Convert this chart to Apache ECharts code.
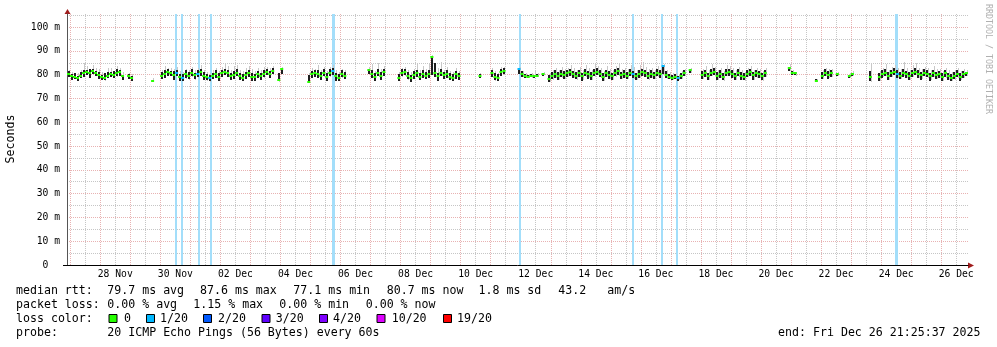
<!DOCTYPE html>
<html><head><meta charset="utf-8">
<script src="https://cdn.jsdelivr.net/npm/echarts@6/dist/echarts.min.js"></script>
<style>html,body{margin:0;padding:0;background:#fff}#c{width:997px;height:347px}</style>
</head><body><div id="c"></div>
<script>
const _ = null;
// time: hours after 2025-11-26 00:00; graph end Fri Dec 26 21:25:37 2025, 30 days
const START_H = 21 + 25/60 + 37/3600;
const RANGE_H = 720;
const STEP_H = 2.4;               // one sample every 2.4 h (300 samples)
const xLabels = ['28 Nov','30 Nov','02 Dec','04 Dec','06 Dec','08 Dec','10 Dec','12 Dec','14 Dec','16 Dec','18 Dec','20 Dec','22 Dec','24 Dec','26 Dec'];
const yLabels = [0,10,20,30,40,50,60,70,80,90,100];
const yGrid = [0,5,10,15,20,25,30,35,40,45,50,55,60,65,70,75,80,85,90,95,100,105];
const Y_MAX = 105.5;

// median rtt (ms)
const med = [
80.2,79.6,79.0,78.6,79.4,80.8,81.2,80.6,81.4,80.9,
79.8,79.2,78.8,79.6,80.4,79.9,80.7,81.0,79.3,_,
79.4,78.8,_,_,_,_,_,_,77.2,_,
_,79.6,80.4,81.2,80.6,79.8,80.9,79.2,78.6,80.1,
79.4,80.8,79.7,80.3,81.1,79.5,79.0,78.4,79.6,80.2,
79.1,80.6,81.3,80.7,79.4,80.0,80.9,79.3,78.7,79.8,
80.5,79.2,78.9,80.1,79.6,80.4,81.0,80.2,81.5,_,
77.8,82.3,_,_,_,_,_,_,_,_,
77.1,80.3,80.8,80.2,79.4,80.6,79.1,80.9,81.4,79.3,
78.6,80.2,79.5,_,_,_,_,_,_,_,
81.8,80.4,79.2,80.9,79.6,81.1,_,_,_,_,
78.6,80.7,81.3,79.5,78.4,79.9,80.5,79.1,80.2,79.6,
80.4,87.6,80.6,79.3,80.8,79.7,80.2,79.0,78.7,80.1,
79.4,_,_,_,_,_,_,79.3,_,_,
_,80.6,79.2,78.8,81.0,81.7,_,_,_,_,
82.4,80.1,79.4,79.2,79.6,79.3,79.5,_,80.2,_,
78.2,79.4,80.3,79.6,80.4,79.8,80.6,81.0,80.2,79.5,
80.7,79.3,80.9,80.1,79.6,80.8,81.2,80.3,79.1,80.5,
80.0,79.4,80.7,81.4,79.7,80.2,79.6,80.9,80.1,79.3,
80.4,81.1,80.6,79.5,80.2,79.8,80.7,80.3,83.6,79.9,
79.2,78.8,79.0,78.6,79.4,80.9,_,82.0,_,_,
_,79.8,80.6,79.4,80.9,81.2,79.6,80.3,79.1,80.7,
81.3,80.2,79.4,80.8,79.6,78.9,80.4,81.0,79.7,80.5,
80.1,79.3,80.6,_,_,_,_,_,_,_,
82.6,80.9,80.5,_,_,_,_,_,_,77.4,
_,79.6,80.8,79.9,80.6,_,80.3,_,_,_,
79.4,80.1,_,_,_,_,_,79.0,_,_,
79.2,80.4,80.9,79.6,80.7,81.2,80.3,79.5,80.8,80.1,
79.4,80.6,81.3,80.2,79.7,80.9,80.4,79.3,80.6,79.8,
80.2,79.1,80.5,79.4,78.8,79.6,80.3,79.2,80.1,80.7
];
// dark smoke top (ms)
const smokeHi = [
81.6,80.3,80.9,79.5,81.2,82.1,81.9,82.4,82.3,81.6,
81.2,80.0,80.6,81.0,81.2,81.4,82.2,81.8,80.0,_,
80.4,79.6,_,_,_,_,_,_,77.6,_,
_,81.2,82.0,82.3,81.5,81.7,82.0,80.4,80.3,81.8,
81.0,82.2,80.6,81.9,82.4,81.3,80.2,79.9,80.7,81.9,
80.8,81.9,82.5,82.1,80.8,81.6,82.3,80.9,80.2,81.3,
81.8,80.9,80.3,81.6,80.8,82.0,82.2,81.6,82.6,_,
80.5,82.7,_,_,_,_,_,_,_,_,
79.8,81.7,82.0,81.8,81.0,82.2,80.9,82.3,82.6,80.9,
80.2,81.8,81.0,_,_,_,_,_,_,_,
82.5,82.1,80.8,82.3,81.3,82.5,_,_,_,_,
80.1,82.2,82.4,81.0,80.0,81.6,82.0,80.7,81.9,81.1,
82.0,88.0,85.0,80.9,82.3,81.2,81.8,80.6,80.1,81.7,
80.9,_,_,_,_,_,_,80.2,_,_,
_,82.1,80.7,80.4,82.4,82.6,_,_,_,_,
82.8,81.4,80.2,79.9,80.3,80.0,80.2,_,80.7,_,
79.8,81.0,81.9,81.2,81.8,81.5,82.0,82.5,81.7,81.0,
82.1,80.9,82.4,81.7,81.2,82.3,82.6,81.8,80.7,82.0,
81.6,80.9,82.2,82.7,81.2,81.9,81.1,82.4,81.6,80.8,
82.0,82.5,82.1,81.0,81.8,81.3,82.2,81.9,84.0,81.4,
80.3,79.9,80.1,79.6,80.6,81.9,_,82.5,_,_,
_,81.4,82.1,80.9,82.3,82.6,81.2,81.9,80.6,82.2,
82.5,81.8,80.9,82.3,81.2,80.5,81.9,82.5,81.3,82.0,
81.6,80.8,82.0,_,_,_,_,_,_,_,
83.0,81.6,81.2,_,_,_,_,_,_,78.0,
_,81.1,82.3,81.5,82.0,_,80.8,_,_,_,
80.0,80.7,_,_,_,_,_,81.4,_,_,
80.8,82.0,82.4,81.2,82.1,82.7,81.9,81.0,82.4,81.6,
81.0,82.1,82.6,81.8,81.3,82.4,81.9,80.9,82.1,81.3,
81.7,80.7,82.0,80.9,80.4,81.1,81.8,80.8,81.6,81.2
];
// dark smoke bottom (ms)
const smokeLo = [
78.9,77.8,78.2,77.4,78.8,79.2,79.9,78.7,80.1,79.4,
78.3,77.9,77.6,78.5,79.0,78.6,79.2,79.4,77.8,_,
78.2,77.7,_,_,_,_,_,_,76.8,_,
_,78.3,78.8,79.4,79.2,78.0,79.3,77.6,77.4,78.4,
77.9,79.2,78.1,78.8,79.6,77.8,77.5,77.2,78.2,78.7,
77.6,79.0,79.8,79.3,77.7,78.4,79.5,77.8,77.3,78.3,
79.0,77.6,77.5,78.7,78.0,78.9,79.6,78.8,79.9,_,
77.0,80.2,_,_,_,_,_,_,_,_,
76.8,78.9,79.2,78.6,77.8,79.1,77.6,79.4,79.8,77.7,
77.3,78.7,78.0,_,_,_,_,_,_,_,
80.2,78.8,77.6,79.2,78.1,79.4,_,_,_,_,
77.2,79.1,79.8,77.9,77.1,78.3,78.9,77.6,78.6,78.0,
78.8,80.2,79.0,77.7,79.2,78.1,78.6,77.5,77.2,78.5,
77.9,_,_,_,_,_,_,78.5,_,_,
_,79.1,77.6,77.3,79.4,80.1,_,_,_,_,
80.3,79.0,78.7,78.6,78.9,78.7,78.9,_,79.6,_,
77.0,77.9,78.7,78.0,78.9,78.2,79.1,79.4,78.6,77.9,
79.1,77.7,79.3,78.5,78.0,79.2,79.7,78.7,77.5,78.9,
78.4,77.8,79.1,79.8,78.1,78.6,78.0,79.3,78.5,77.7,
78.8,79.5,79.0,77.9,78.6,78.2,79.1,78.7,80.1,78.3,
78.1,77.8,78.0,77.7,78.2,79.3,_,80.9,_,_,
_,78.2,79.0,77.8,79.3,79.6,78.0,78.7,77.5,79.1,
79.7,78.6,77.8,79.2,78.0,77.4,78.8,79.4,78.1,78.9,
78.5,77.7,79.0,_,_,_,_,_,_,_,
81.6,80.0,79.8,_,_,_,_,_,_,77.0,
_,78.0,79.2,78.3,79.0,_,79.7,_,_,_,
78.8,79.5,_,_,_,_,_,77.0,_,_,
77.6,78.8,79.3,78.0,79.1,79.6,78.7,77.9,79.2,78.5,
77.8,79.0,79.7,78.6,78.1,79.3,78.8,77.7,79.0,78.2,
78.6,77.5,78.9,77.8,77.3,78.0,78.7,77.6,78.5,79.7
];
// light smoke top (ms)
const smokeMax = [
81.8,81.2,80.6,80.9,82.1,84.8,83.6,82.4,83.9,82.6,
82.3,81.2,80.8,82.7,82.9,81.7,83.8,82.6,81.0,_,
80.9,80.3,_,_,_,_,_,_,78.4,_,
_,81.9,83.7,82.8,82.6,82.4,83.1,81.7,81.2,82.4,
82.0,83.3,82.1,82.7,84.0,81.8,81.3,80.8,81.9,82.8,
81.5,83.1,84.6,83.8,81.9,83.5,84.2,82.1,81.4,82.6,
83.6,82.2,81.5,82.8,82.1,83.4,83.1,82.9,83.7,_,
80.4,83.2,_,_,_,_,_,_,_,_,
80.8,82.6,82.3,83.9,81.8,83.2,81.6,83.4,84.1,82.0,
81.2,82.5,81.8,_,_,_,_,_,_,_,
83.1,84.3,81.7,84.8,82.2,83.6,_,_,_,_,
81.0,82.8,83.4,82.1,81.3,82.4,84.9,81.9,83.6,82.3,
84.4,88.4,83.9,82.6,85.2,82.0,83.3,81.4,81.1,82.7,
81.6,_,_,_,_,_,_,80.6,_,_,
_,82.7,81.6,80.8,83.1,83.4,_,_,_,_,
83.3,81.6,80.8,80.4,80.9,81.8,80.7,_,81.0,_,
80.6,81.9,82.8,82.1,83.4,82.3,83.0,84.1,82.7,82.0,
83.2,82.0,84.2,82.6,82.1,84.5,83.5,82.9,81.6,83.7,
82.5,81.9,83.8,84.6,82.2,82.8,82.3,84.0,83.4,81.8,
84.1,85.3,83.2,82.4,83.0,82.1,83.6,82.5,84.3,81.9,
81.2,80.6,80.9,80.2,81.6,82.4,_,82.9,_,_,
_,82.2,83.6,81.8,84.4,83.2,82.0,82.7,81.5,83.9,
83.5,82.8,81.9,83.3,82.0,81.2,82.6,83.7,82.1,82.9,
82.3,81.7,82.6,_,_,_,_,_,_,_,
84.6,81.8,81.3,_,_,_,_,_,_,78.3,
_,81.8,82.6,82.2,82.4,_,81.2,_,_,_,
80.9,81.5,_,_,_,_,_,84.9,_,_,
81.6,82.7,84.3,82.1,83.4,84.0,82.8,82.2,85.2,82.6,
82.0,83.9,84.8,82.7,82.3,83.3,82.9,81.8,83.6,82.2,
82.5,81.6,82.9,81.8,81.2,82.0,82.7,81.5,82.4,82.1
];
// packet-loss events (hours after graph start) and their duration (hours)
const lossAt  = [87.1, 91.9, 105.5, 115.1, 212.6, 362.0, 452.3, 475.5, 487.5, 662.5];
const lossDur = [1.6, 1.6, 1.6, 1.6, 2.4, 1.6, 1.6, 1.6, 1.6, 2.4];

const legendColors = ['#26ff00','#00b8ff','#0059ff','#5e00ff','#7e00ff','#dd00ff','#ff0000'];
const legendNames  = ['0','1/20','2/20','3/20','4/20','10/20','19/20'];

// ---------- build ----------
const xOf = i => START_H + (i + 0.5) * STEP_H;
const lossIdx = new Set(lossAt.map(h => Math.floor(h / STEP_H)));
const lightData = [], darkData = [], medData = [];
for (let i = 0; i < med.length; i++) {
  if (med[i] === null) continue;
  lightData.push([xOf(i), smokeLo[i], smokeMax[i]]);
  darkData.push([xOf(i), smokeLo[i], smokeHi[i]]);
  medData.push([xOf(i), med[i], lossIdx.has(i) ? 1 : 0]);
}
const lossData = lossAt.map((h, k) => [START_H + h, lossDur[k]]);

// grid lines: every 12 h, alternating midnight (major) / noon (minor)
const xGrid = [];
for (let h = 0; h <= START_H + RANGE_H; h += 12) if (h > START_H) xGrid.push(h);
const xGridColors = xGrid[0] % 24 === 0 ? ['MG', 'G'] : ['G', 'MG'];
const labelHours = xLabels.map(s => {
  const [d, m] = s.split(' ');
  return (Date.UTC(2025, m === 'Nov' ? 10 : 11, +d, 12) - Date.UTC(2025, 10, 26)) / 3.6e6;
});
const labelFor = v => { for (let k = 0; k < labelHours.length; k++) if (Math.abs(labelHours[k] - v) < 0.01) return xLabels[k]; return ''; };

const MONO = '"DejaVu Sans Mono", monospace';
const MGRID = '#e8b2b2', GRID = '#c6c6c6';
const GL = 67, GT = 14, GR = 968, GB = 265;

function barRect(color, w, dx) {
  return function (params, api) {
    const x = api.value(0), lo = api.value(1), hi = api.value(2);
    const p1 = api.coord([x, hi]);
    const p2 = api.coord([x, lo]);
    return { type: 'rect', shape: { x: Math.round(p1[0] - w / 2) + dx, y: Math.round(p1[1]), width: w, height: Math.max(1, Math.round(p2[1] - p1[1])) }, style: { fill: color } };
  };
}

const chart = echarts.init(document.getElementById('c'), null, { renderer: 'canvas' });
const txt = (t, x, y, extra) => Object.assign({ type: 'text', x: x, y: y, silent: true,
  style: Object.assign({ text: t, font: '11.6px ' + MONO, fill: '#000', textAlign: 'left', textVerticalAlign: 'middle', align: 'left', verticalAlign: 'middle' }, extra || {}) });

const graphics = [
  { type: 'line', shape: { x1: GL - 4, y1: GB + 0.5, x2: GL, y2: GB + 0.5 }, style: { stroke: '#000', lineWidth: 1 } },
  { type: 'polygon', shape: { points: [[GR, GB - 2.5], [GR + 6, GB + 0.5], [GR, GB + 3.5]] }, style: { fill: '#a01c1c' } },
  { type: 'polygon', shape: { points: [[GL - 2.5, GT], [GL + 0.5, GT - 5], [GL + 3.5, GT]] }, style: { fill: '#a01c1c' } },
  { type: 'text', x: 11, y: 139, rotation: Math.PI / 2, style: { text: 'Seconds', font: '11.6px ' + MONO, fill: '#000', align: 'center', verticalAlign: 'middle', textAlign: 'center', textVerticalAlign: 'middle' } },
  { type: 'text', x: 988, y: 59, rotation: -Math.PI / 2, style: { text: 'RRDTOOL / TOBI OETIKER', font: '8.3px ' + MONO, fill: '#b0b0b0', align: 'center', verticalAlign: 'middle', textAlign: 'center', textVerticalAlign: 'middle' } },
  txt('median rtt:', 16, 291), txt('79.7 ms avg', 107.3, 291), txt('87.6 ms max', 200, 291), txt('77.1 ms min', 293.3, 291),
  txt('80.7 ms now', 386.7, 291), txt('1.8 ms sd', 478.5, 291), txt('43.2', 558.3, 291), txt('am/s', 607.3, 291),
  txt('packet loss:', 16, 305), txt('0.00 % avg', 107.3, 305), txt('1.15 % max', 193.3, 305), txt('0.00 % min', 279.3, 305), txt('0.00 % now', 365.7, 305),
  txt('loss color:', 16, 319),
  txt('probe:', 16, 333), txt('20 ICMP Echo Pings (56 Bytes) every 60s', 107.3, 333),
  txt('end: Fri Dec 26 21:25:37 2025', 980.5, 333, { textAlign: 'right', align: 'right' })
];
const boxX = [108.5, 146, 203, 261.5, 319, 376.5, 443];
const boxTextX = [124, 160, 218, 275.7, 333, 391.7, 457];
legendNames.forEach((n, k) => {
  graphics.push({ type: 'rect', shape: { x: boxX[k] + 0.5, y: 314.5, width: 8, height: 8 }, style: { fill: legendColors[k], stroke: '#000', lineWidth: 1 } });
  graphics.push(txt(n, boxTextX[k], 319));
});

chart.setOption({
  animation: false,
  backgroundColor: '#fff',
  grid: { left: GL, top: GT, width: GR - GL, height: GB - GT, containLabel: false },
  xAxis: { type: 'value', min: START_H, max: START_H + RANGE_H, position: 'bottom',
      axisLine: { show: true, onZero: false, lineStyle: { color: '#000', width: 1 } },
      axisTick: { show: false, customValues: xGrid },
      splitLine: { show: true, lineStyle: { color: xGridColors.map(c => c === 'MG' ? MGRID : GRID), width: 1, type: [1, 1] } },
      axisLabel: { show: true, customValues: labelHours, formatter: v => labelFor(v), fontFamily: MONO, fontSize: 9.7, color: '#000', margin: 4 } },
  yAxis: { type: 'value', min: 0, max: Y_MAX, position: 'left',
      axisLine: { show: true, onZero: false, lineStyle: { color: '#555', width: 1 } },
      axisTick: { show: false, customValues: yGrid },
      splitLine: { show: true, lineStyle: { color: [MGRID, GRID], width: 1, type: [1, 1] } },
      axisLabel: { show: true, customValues: yLabels, formatter: v => v === 0 ? '0  ' : v + ' m', fontFamily: MONO, fontSize: 9.7, color: '#000', margin: 7 } },
  series: [
    { type: 'custom', name: 'loss', z: 3, silent: true, data: lossData, clip: true,
      renderItem: (params, api) => {
        const h = api.value(0), d = api.value(1);
        const p1 = api.coord([h - d / 2, Y_MAX]), p2 = api.coord([h + d / 2, 0]);
        return { type: 'rect', shape: { x: Math.round(p1[0]), y: p1[1], width: Math.max(1, Math.round(p2[0] - p1[0])), height: p2[1] - p1[1] }, style: { fill: '#a3defa' } };
      } },
    { type: 'custom', name: 'smoke', z: 4, silent: true, data: lightData, clip: true, renderItem: barRect('#c8c8c8', 1, 1) },
    { type: 'custom', name: 'core', z: 5, silent: true, data: darkData, clip: true, renderItem: barRect('#1e1e1e', 2, 0) },
    { type: 'custom', name: 'median', z: 6, silent: true, data: medData, clip: true,
      renderItem: (params, api) => {
        const x = api.value(0), m = api.value(1), l = api.value(2);
        const p1 = api.coord([x - STEP_H / 2, m]), p2 = api.coord([x + STEP_H / 2, m]);
        return { type: 'rect', shape: { x: p1[0], y: Math.round(p1[1]) - 1, width: p2[0] - p1[0], height: 2 }, style: { fill: l ? '#00b8ff' : '#26ff00' } };
      } }
  ],
  graphic: graphics
});
</script>
</body></html>
